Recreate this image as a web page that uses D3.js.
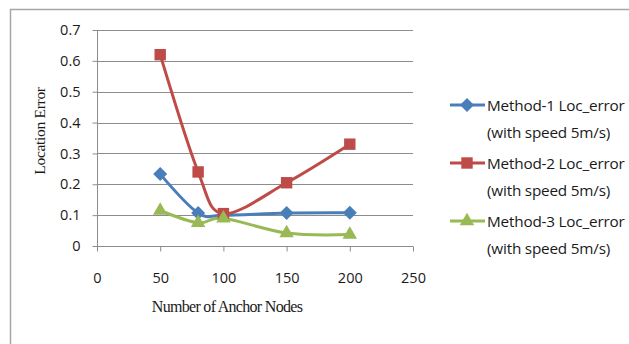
<!DOCTYPE html>
<html>
<head>
<meta charset="utf-8">
<script src="https://cdn.jsdelivr.net/npm/d3@7"></script>
<style>
  body { margin: 0; background: #fff; }
  svg { display: block; }
</style>
</head>
<body>
<svg id="chart" width="629" height="344"></svg>
<script>
"use strict";

var anchorNodes = [50, 80, 100, 150, 200]
var method1 = [0.233, 0.107, 0.100, 0.107, 0.108]
var method2 = [0.620, 0.240, 0.105, 0.205, 0.330]
var method3 = [0.115, 0.075, 0.090, 0.042, 0.037]
var seriesNames = ["Method-1 Loc_error", "Method-2 Loc_error", "Method-3 Loc_error"]
var seriesNote = "(with speed 5m/s)"
var xTicks = [0, 50, 100, 150, 200, 250]
var yTicks = [0, 0.1, 0.2, 0.3, 0.4, 0.5, 0.6, 0.7]

var colors = ["#4a7ebb", "#be4b48", "#98b954"]
var shapes = [d3.symbolDiamond2, d3.symbolSquare, d3.symbolTriangle]
var sizes = [125, 130, 90]

var svg = d3.select("#chart")

// outer chart border (runs off the right and bottom edges)
svg.append("rect")
    .attr("x", 10.5).attr("y", 9.5)
    .attr("width", 700).attr("height", 400)
    .attr("fill", "none")
    .attr("stroke", "#a6a6a6")
    .attr("stroke-width", 1.5)

var x = d3.scaleLinear().domain([0, 250]).range([97, 413])
var y = d3.scaleLinear().domain([0, 0.7]).range([246, 30])

// gridlines
svg.append("g")
    .selectAll("line")
    .data(yTicks.slice(1))
    .enter().append("line")
    .attr("x1", x(0)).attr("x2", x(250))
    .attr("y1", d => Math.round(y(d)) + 0.5)
    .attr("y2", d => Math.round(y(d)) + 0.5)
    .attr("stroke", "#8c8c8c")
    .attr("stroke-width", 1)

var xAxis = d3.axisBottom(x).tickValues(xTicks).tickSize(5).tickPadding(21)
var yAxis = d3.axisLeft(y).tickValues(yTicks).tickSize(5).tickPadding(12)
    .tickFormat(d => d === 0 ? "0" : d3.format(".1f")(d))

var gx = svg.append("g")
    .attr("transform", "translate(0," + (Math.round(y(0)) + 0.5) + ")")
    .call(xAxis)
var gy = svg.append("g")
    .attr("transform", "translate(" + (Math.round(x(0)) + 0.5) + ",0)")
    .call(yAxis)

;[gx, gy].forEach(g => {
    g.selectAll("path, line").attr("stroke", "#8c8c8c")
    g.select(".domain").attr("d", g === gx
        ? "M" + x(0) + ",0H" + x(250)
        : "M0," + y(0.7) + "V" + y(0))
    g.selectAll("text")
        .attr("fill", "#1a1a1a")
        .style("font-family", "'Open Sans', sans-serif")
        .style("font-size", "14.5px")
})

// axis titles
svg.append("text")
    .attr("x", 227).attr("y", 312)
    .attr("text-anchor", "middle")
    .attr("fill", "#1a1a1a")
    .style("font-family", "'Liberation Serif', serif")
    .style("font-size", "16px")
    .style("letter-spacing", "-0.7px")
    .text("Number of Anchor Nodes")

svg.append("text")
    .attr("transform", "translate(45,131) rotate(-90)")
    .attr("text-anchor", "middle")
    .attr("fill", "#1a1a1a")
    .style("font-family", "'Liberation Serif', serif")
    .style("font-size", "15.5px")
    .style("letter-spacing", "-0.3px")
    .text("Location Error")

// series
var allSeries = [method1, method2, method3]
var line = d3.line()
    .x((d, i) => x(anchorNodes[i]))
    .y(d => y(d))
    .curve(d3.curveCardinal.tension(0))

allSeries.forEach((vals, k) => {
    svg.append("path")
        .datum(vals)
        .attr("d", line)
        .attr("fill", "none")
        .attr("stroke", colors[k])
        .attr("stroke-width", 3)
        .attr("stroke-linejoin", "round")
})

allSeries.forEach((vals, k) => {
    svg.append("g")
        .selectAll("path")
        .data(vals)
        .enter().append("path")
        .attr("transform", (d, i) => "translate(" + x(anchorNodes[i]) + "," + y(d) + ")")
        .attr("d", d3.symbol().type(shapes[k]).size(sizes[k]))
        .attr("fill", colors[k])
})

// legend
var legend = svg.append("g")
var legendY = [105, 163, 221]
seriesNames.forEach((name, k) => {
    var cy = legendY[k]
    legend.append("line")
        .attr("x1", 450).attr("x2", 485)
        .attr("y1", cy).attr("y2", cy)
        .attr("stroke", colors[k])
        .attr("stroke-width", 3)
    legend.append("path")
        .attr("transform", "translate(467," + cy + ")")
        .attr("d", d3.symbol().type(shapes[k]).size(sizes[k]))
        .attr("fill", colors[k])
    var t = legend.append("text")
        .attr("x", 487).attr("y", cy + 6)
        .attr("fill", "#1a1a1a")
        .style("font-family", "'Open Sans', sans-serif")
        .style("font-size", "15.3px")
        .style("letter-spacing", "-0.2px")
    t.append("tspan").text(name)
    t.append("tspan").attr("x", 487).attr("dy", 27).text(seriesNote)
})
</script>
</body>
</html>
